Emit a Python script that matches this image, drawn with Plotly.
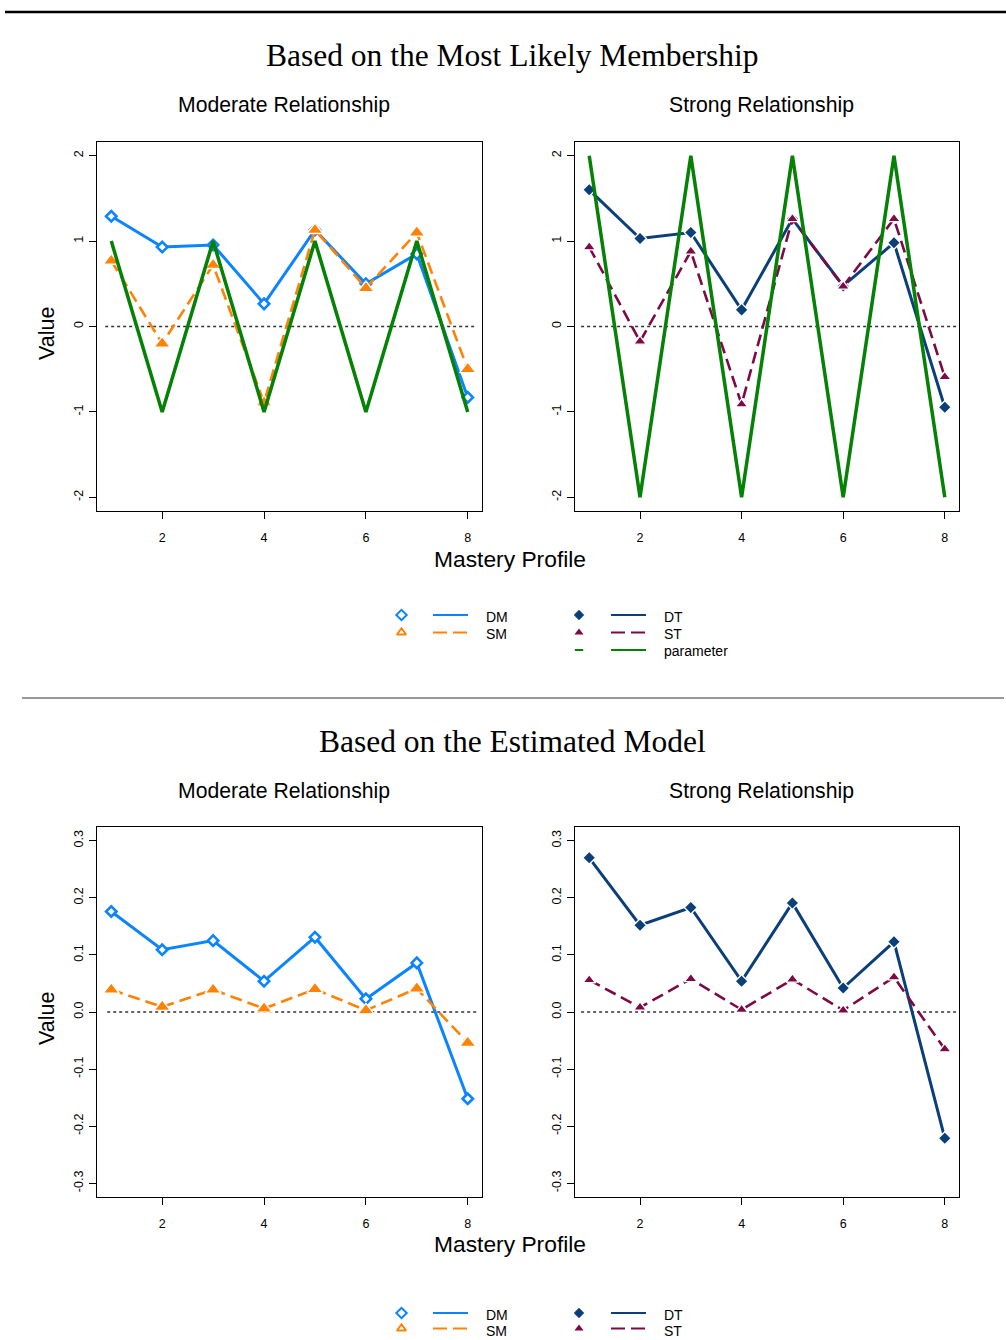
import plotly.graph_objects as go

# ---------------- data ----------------
profiles = [1, 2, 3, 4, 5, 6, 7, 8]
x_ticks = [2, 4, 6, 8]
y_ticks_top = [-2, -1, 0, 1, 2]
y_ticks_bot = [-0.3, -0.2, -0.1, 0.0, 0.1, 0.2, 0.3]
y_ticklabels_bot = ["-0.3", "-0.2", "-0.1", "0.0", "0.1", "0.2", "0.3"]

# Based on the Most Likely Membership
mlm_DM = [1.29, 0.93, 0.955, 0.265, 1.13, 0.50, 0.85, -0.83]
mlm_SM = [0.77, -0.20, 0.72, -0.89, 1.13, 0.45, 1.10, -0.50]
param_moderate = [1, -1, 1, -1, 1, -1, 1, -1]
mlm_DT = [1.60, 1.03, 1.10, 0.195, 1.26, 0.475, 0.98, -0.945]
mlm_ST = [0.93, -0.175, 0.88, -0.91, 1.26, 0.47, 1.26, -0.59]
param_strong = [2, -2, 2, -2, 2, -2, 2, -2]

# Based on the Estimated Model
est_DM = [0.176, 0.109, 0.125, 0.054, 0.131, 0.023, 0.086, -0.152]
est_SM = [0.039, 0.009, 0.039, 0.006, 0.040, 0.003, 0.041, -0.054]
est_DT = [0.270, 0.152, 0.183, 0.054, 0.191, 0.042, 0.123, -0.221]
est_ST = [0.056, 0.008, 0.058, 0.004, 0.057, 0.003, 0.061, -0.065]

titles_main = ["Based on the Most Likely Membership", "Based on the Estimated Model"]
titles_sub = ["Moderate Relationship", "Strong Relationship"]

# ---------------- styles ----------------
C_DM = "#0A84FF"
C_SM = "#FF8205"
C_DT = "#0B3F7A"
C_ST = "#7D0A45"
C_PAR = "#058205"
SANS = "Liberation Sans, Arial, sans-serif"
SERIF = "Liberation Serif, Times New Roman, serif"
W, H = 1006, 1340


def px(xp):
    return xp / W


def py(yp):
    return 1 - yp / H


fig = go.Figure()


def series(xa, ya, vals, color, dash, symbol, msize, hollow, lw=3):
    if hollow:
        marker = dict(symbol=symbol, size=msize, color="white",
                      line=dict(color=color, width=2.6))
    else:
        marker = dict(symbol=symbol, size=msize, color=color,
                      line=dict(color="white", width=1.3))
    fig.add_trace(go.Scatter(x=profiles, y=vals, xaxis=xa, yaxis=ya,
                             mode="lines+markers",
                             line=dict(color=color, width=lw, dash=dash),
                             marker=marker, showlegend=False, hoverinfo="skip"))


def param(xa, ya, vals):
    fig.add_trace(go.Scatter(x=profiles, y=vals, xaxis=xa, yaxis=ya, mode="lines",
                             line=dict(color=C_PAR, width=3.5),
                             showlegend=False, hoverinfo="skip"))


DASH = "12px,6px"
# top-left
series("x", "y", mlm_DM, C_DM, "solid", "diamond", 8, True)
series("x", "y", mlm_SM, C_SM, DASH, "triangle-up", 14, False, 2.6)
param("x", "y", param_moderate)
# top-right
series("x2", "y2", mlm_DT, C_DT, "solid", "diamond", 10, False)
series("x2", "y2", mlm_ST, C_ST, DASH, "triangle-up", 11, False, 2.6)
param("x2", "y2", param_strong)
# bottom-left
series("x3", "y3", est_DM, C_DM, "solid", "diamond", 8, True)
series("x3", "y3", est_SM, C_SM, DASH, "triangle-up", 14, False, 2.6)
# bottom-right
series("x4", "y4", est_DT, C_DT, "solid", "diamond", 10, False)
series("x4", "y4", est_ST, C_ST, DASH, "triangle-up", 11, False, 2.6)

# ---------------- axes ----------------
xdom_l = [px(97), px(482)]
xdom_r = [px(575), px(959)]
ydom_t = [py(511), py(142)]
ydom_b = [py(1197), py(827)]

axis_common = dict(showline=True, linecolor="black", linewidth=1.2, mirror=True,
                   ticks="outside", ticklen=7, tickwidth=1, tickcolor="black",
                   showgrid=False, zeroline=False,
                   tickfont=dict(family=SANS, size=12.5, color="black"))

xr = [0.72, 8.28]
yr_t = [-2.16, 2.16]
yr_b = [-0.324, 0.324]

layout_axes = {}
for i, (xd, yd, yr, yt, ytl) in enumerate([
        (xdom_l, ydom_t, yr_t, y_ticks_top, [str(v) for v in y_ticks_top]),
        (xdom_r, ydom_t, yr_t, y_ticks_top, [str(v) for v in y_ticks_top]),
        (xdom_l, ydom_b, yr_b, y_ticks_bot, y_ticklabels_bot),
        (xdom_r, ydom_b, yr_b, y_ticks_bot, y_ticklabels_bot)], start=1):
    sfx = "" if i == 1 else str(i)
    layout_axes["xaxis" + sfx] = dict(axis_common, domain=xd, range=xr,
                                      tickmode="array", tickvals=x_ticks,
                                      ticktext=[str(v) for v in x_ticks],
                                      anchor="y" + sfx, ticklabelstandoff=8)
    layout_axes["yaxis" + sfx] = dict(axis_common, domain=yd, range=yr,
                                      tickmode="array", tickvals=yt, ticktext=ytl,
                                      tickangle=-90, anchor="x" + sfx,
                                      ticklabelstandoff=1)

# overlay axis for the legends (pixel coordinates)
layout_axes["xaxis5"] = dict(domain=[0, 1], range=[0, W], visible=False,
                             anchor="y5", fixedrange=True)
layout_axes["yaxis5"] = dict(domain=[0, 1], range=[H, 0], visible=False,
                             anchor="x5", fixedrange=True)

fig.update_layout(**layout_axes)

# ---------------- legends ----------------
annotations = []


def leg_item(mx, lx0, lx1, tx, yrow, ytext, color, dash, symbol, hollow, label):
    if symbol == "line-ew":
        mk = dict(symbol="line-ew", size=6, line=dict(color=color, width=2))
    elif hollow:
        mk = dict(symbol=symbol + "-open", size=8, color=color, line=dict(color=color, width=2))
    else:
        mk = dict(symbol=symbol, size=8, color=color, line=dict(width=0))
    fig.add_trace(go.Scatter(x=[mx], y=[yrow], xaxis="x5", yaxis="y5", mode="markers",
                             marker=mk, showlegend=False, hoverinfo="skip"))
    fig.add_trace(go.Scatter(x=[lx0, lx1], y=[yrow, yrow], xaxis="x5", yaxis="y5",
                             mode="lines", line=dict(color=color, width=2, dash=dash),
                             showlegend=False, hoverinfo="skip"))
    annotations.append(dict(x=px(tx), y=py(ytext), xref="paper", yref="paper",
                            text=label, showarrow=False, xanchor="left", yanchor="middle",
                            font=dict(family=SANS, size=14, color="black")))


LDASH = "14px,6px"
for (r1, r2, t1, t2) in [(615, 632.5, 617, 634), (1313, 1328.5, 1315, 1331)]:
    leg_item(401.5, 433, 468, 484, r1, t1, C_DM, "solid", "diamond", True, "DM")
    leg_item(401.5, 433, 468, 484, r2, t2, C_SM, LDASH, "triangle-up", True, "SM")
    leg_item(579, 611, 646, 662, r1, t1, C_DT, "solid", "diamond", False, "DT")
    leg_item(579, 611, 646, 662, r2, t2, C_ST, LDASH, "triangle-up", False, "ST")
leg_item(579, 611, 646, 662, 650, 651, C_PAR, "solid", "line-ew", False, "parameter")

# ---------------- texts ----------------
for title, yc in zip(titles_main, [56, 741]):
    annotations.append(dict(x=px(512.5), y=py(yc), xref="paper", yref="paper", text=title,
                            showarrow=False, xanchor="center", yanchor="middle",
                            font=dict(family=SERIF, size=31.5, color="black")))
for yc in [105, 791]:
    for title, xc in zip(titles_sub, [284, 761.5]):
        annotations.append(dict(x=px(xc), y=py(yc), xref="paper", yref="paper", text=title,
                                showarrow=False, xanchor="center", yanchor="middle",
                                font=dict(family=SANS, size=21.2, color="black")))
for yc in [334, 1019]:
    annotations.append(dict(x=px(47), y=py(yc), xref="paper", yref="paper", text="Value",
                            showarrow=False, xanchor="center", yanchor="middle", textangle=-90,
                            font=dict(family=SANS, size=21.5, color="black")))
for yc in [559, 1244]:
    annotations.append(dict(x=px(510), y=py(yc), xref="paper", yref="paper",
                            text="Mastery Profile", showarrow=False, xanchor="center",
                            yanchor="middle", font=dict(family=SANS, size=22.8, color="black")))

# ---------------- shapes ----------------
shapes = [
    dict(type="line", xref="paper", yref="paper", x0=px(5), x1=1, y0=py(12), y1=py(12),
         line=dict(color="black", width=2.5)),
    dict(type="line", xref="paper", yref="paper", x0=px(22), x1=px(1004), y0=py(698), y1=py(698),
         line=dict(color="#333333", width=1)),
]
for xa, ya, x0, x1 in [("x", "y", 0.88, 8.18), ("x2", "y2", 0.84, 8.26),
                       ("x3", "y3", 0.92, 8.17), ("x4", "y4", 0.84, 8.22)]:
    shapes.append(dict(type="line", xref=xa, yref=ya, x0=x0, x1=x1, y0=0, y1=0,
                       line=dict(color="#333333", width=1.3, dash="dot"), layer="below"))

fig.update_layout(width=W, height=H, autosize=False,
                  margin=dict(l=0, r=0, t=0, b=0),
                  paper_bgcolor="white", plot_bgcolor="rgba(0,0,0,0)",
                  annotations=annotations, shapes=shapes, showlegend=False)

fig.write_html("out.html", config={"displayModeBar": False},
               post_script="document.body.style.margin='0';document.body.style.padding='0';")
